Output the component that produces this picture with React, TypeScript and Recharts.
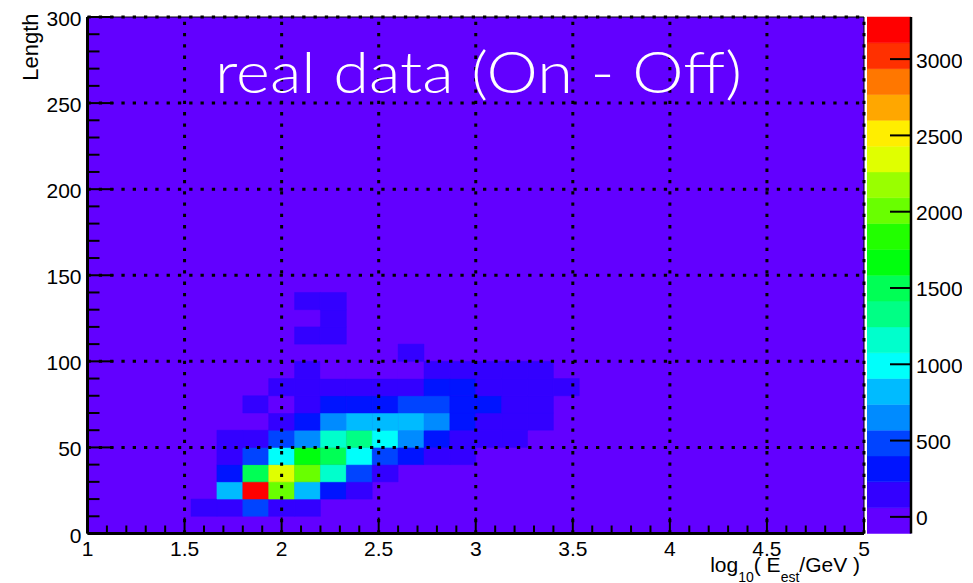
import React from "react"
import { ScatterChart, Scatter, XAxis, YAxis, ReferenceArea, ReferenceLine, CartesianGrid } from "recharts"

// TH2 "Length vs log10(E_est/GeV)", COLZ, 30 x 30 bins
const X_MIN = 1
const X_MAX = 5
const X_BINS = 30
const Y_BIN = 10

const xMajorTicks = [1, 1.5, 2, 2.5, 3, 3.5, 4, 4.5, 5]
const yMajorTicks = [0, 50, 100, 150, 200, 250, 300]
const zTicks = [0, 500, 1000, 1500, 2000, 2500, 3000]

// colour axis range
const Z_MIN = -109
const Z_MAX = 3276

// rows with signal: lower Length edge, first energy bin of the run, bin contents
const rowLength = [10, 20, 30, 40, 50, 60, 70, 80, 90, 100, 110, 120, 130]
const rowFirstBin = [4, 5, 5, 5, 5, 7, 6, 7, 8, 12, 8, 9, 8]
const rowCounts = [
  [130, 170, 470, 190, 120],
  [830, 3276, 2060, 790, 330, 150],
  [300, 1490, 2360, 1990, 1150, 480, 170],
  [190, 510, 1010, 1680, 1520, 990, 450, 320, 140, 110],
  [120, 160, 490, 660, 1170, 1330, 960, 640, 310, 180, 140, 110],
  [170, 300, 700, 840, 820, 790, 650, 280, 190, 150, 120],
  [140, 20, 210, 330, 350, 310, 450, 420, 290, 260, 200, 160],
  [110, 150, 170, 200, 190, 210, 250, 240, 200, 180, 160, 120],
  [130, 10, 30, 20, 40, 110, 150, 140, 120, 100],
  [100],
  [110, 120],
  [100],
  [120, 130],
]

// ROOT pretty palette, 20 contours
const palette = [
  "#6200FF", "#3300FF", "#0014FF", "#0044FF", "#008BFF",
  "#00BBFF", "#00FFFB", "#00FFCC", "#00FF85", "#00FF55",
  "#00FF0E", "#22FF00", "#69FF00", "#99FF00", "#E0FF00",
  "#FFEE00", "#FFA700", "#FF7700", "#FF3000", "#FF0000",
]

const FONT = "'Liberation Sans', Arial, Helvetica, sans-serif"
const binW = (X_MAX - X_MIN) / X_BINS
const zStep = (Z_MAX - Z_MIN) / palette.length

const colorFor = (v: number) => {
  const k = Math.floor((v - Z_MIN) / zStep)
  return palette[Math.min(palette.length - 1, Math.max(0, k))]
}

const cells = rowCounts.flatMap((counts, r) =>
  counts.map((value, k) => {
    const x0 = X_MIN + (rowFirstBin[r] + k) * binW
    const y0 = rowLength[r]
    return { x0, x1: x0 + binW, y0, y1: y0 + Y_BIN, x: x0 + binW / 2, y: y0 + Y_BIN / 2, value }
  })
)

const xTicks = Array.from({ length: 41 }, (_, i) => Math.round((X_MIN + i * 0.1) * 10) / 10)
const yTicks = Array.from({ length: 31 }, (_, i) => i * 10)
const zLevels = palette.map((c, k) => ({ lo: Z_MIN + k * zStep, hi: Z_MIN + (k + 1) * zStep, color: c }))

const isMajorX = (v: number) => xMajorTicks.some((t) => Math.abs(t - v) < 1e-6)
const isMajorY = (v: number) => yMajorTicks.includes(v)

function XTick({ x, y, payload }: any) {
  const major = isMajorX(payload.value)
  return (
    <g>
      <line x1={x} y1={y} x2={x} y2={y - (major ? 16 : 8)} stroke="#000" strokeWidth={2} />
      {major && (
        <text x={x} y={y + 22} textAnchor="middle" fontSize={21} fontFamily={FONT} fill="#000">
          {payload.value}
        </text>
      )}
    </g>
  )
}

function YTick({ x, y, payload }: any) {
  const major = isMajorY(payload.value)
  return (
    <g>
      <line x1={x} y1={y} x2={x + (major ? 26 : 12)} y2={y} stroke="#000" strokeWidth={2} />
      {major && (
        <text x={x - 6} y={y + 9} textAnchor="end" fontSize={21} fontFamily={FONT} fill="#000">
          {payload.value}
        </text>
      )}
    </g>
  )
}

function ZTick({ x, y, payload }: any) {
  return (
    <g>
      <line x1={x - 21} y1={y} x2={x} y2={y} stroke="#000" strokeWidth={2} />
      <text x={x + 5} y={y + 8.5} textAnchor="start" fontSize={21} fontFamily={FONT} fill="#000">
        {payload.value}
      </text>
    </g>
  )
}

export default function App() {
  return (
    <div style={{ position: "absolute", left: 0, top: 0, width: 973, height: 583, background: "#fff" }}>
      <div style={{ position: "absolute", left: 0, top: 0 }}>
        <ScatterChart width={973} height={583} margin={{ top: 17, right: 109, bottom: 9.5, left: 0 }}>
          <CartesianGrid horizontal={false} vertical={false} fill={palette[0]} />
          <XAxis
            type="number"
            dataKey="x"
            domain={[X_MIN, X_MAX]}
            ticks={xTicks}
            interval={0}
            allowDataOverflow
            height={40}
            tickSize={0}
            tickMargin={0}
            tickLine={false}
            axisLine={{ stroke: "#000", strokeWidth: 3 }}
            tick={(p: any) => <XTick {...p} />}
          />
          <YAxis
            type="number"
            dataKey="y"
            domain={[0, 300]}
            ticks={yTicks}
            interval={0}
            allowDataOverflow
            width={87.5}
            tickSize={0}
            tickMargin={0}
            tickLine={false}
            axisLine={{ stroke: "#000", strokeWidth: 3 }}
            tick={(p: any) => <YTick {...p} />}
          />
          {cells.map((c, i) => (
            <ReferenceArea
              key={i}
              x1={c.x0}
              x2={c.x1}
              y1={c.y0}
              y2={c.y1}
              fill={colorFor(c.value)}
              fillOpacity={1}
              stroke={colorFor(c.value)}
              strokeWidth={0.5}
            />
          ))}
          {xMajorTicks.slice(1).map((v) => (
            <ReferenceLine key={"gx" + v} x={v} stroke="#000" strokeWidth={3} strokeDasharray="3.3 8" />
          ))}
          {yMajorTicks.slice(1).map((v) => (
            <ReferenceLine key={"gy" + v} y={v} stroke="#000" strokeWidth={3} strokeDasharray="3.3 8" />
          ))}
          <ReferenceLine y={300} stroke="#000" strokeWidth={1} />
          <ReferenceLine x={5} stroke="#000" strokeWidth={1} />
          <Scatter data={cells} fill="#000" fillOpacity={0} isAnimationActive={false} />
        </ScatterChart>
      </div>

      {/* palette axis */}
      <div style={{ position: "absolute", left: 867, top: 0, width: 95, height: 583, overflow: "hidden" }}>
        <ScatterChart width={95} height={583} margin={{ top: 17, right: 0, bottom: 49.5, left: 0 }}>
          <XAxis type="number" dataKey="x" domain={[0, 1]} hide />
          <YAxis
            type="number"
            dataKey="y"
            orientation="right"
            domain={[Z_MIN, Z_MAX]}
            ticks={zTicks}
            interval={0}
            allowDataOverflow
            width={51}
            tickSize={0}
            tickMargin={0}
            tickLine={false}
            axisLine={{ stroke: "#000", strokeWidth: 2.5 }}
            tick={(p: any) => <ZTick {...p} />}
          />
          {zLevels.map((l, k) => (
            <ReferenceArea key={k} x1={0} x2={1} y1={l.lo} y2={l.hi} fill={l.color} fillOpacity={1} stroke={l.color} strokeWidth={0.5} />
          ))}
          <Scatter data={zLevels.map((l) => ({ x: 0.5, y: (l.lo + l.hi) / 2 }))} fillOpacity={0} isAnimationActive={false} />
        </ScatterChart>
      </div>

      <svg width={973} height={583} style={{ position: "absolute", left: 0, top: 0, pointerEvents: "none" }}>
        <text x={215} y={93} fontFamily="Lato, 'Open Sans', sans-serif" fontWeight={300} fontSize={58} fill="#fff" textLength={527} lengthAdjust="spacingAndGlyphs">
          real data (On - Off)
        </text>
        <text transform="translate(38,13.5) rotate(-90)" textAnchor="end" fontFamily={FONT} fontSize={22} fill="#000">
          Length
        </text>
        <text x={860} y={571.5} textAnchor="end" fontFamily={FONT} fontSize={21} fill="#000">
          log
          <tspan dy={10} fontSize={14}>10</tspan>
          <tspan dy={-10}>( E</tspan>
          <tspan dy={10} fontSize={14}>est</tspan>
          <tspan dy={-10}>/GeV )</tspan>
        </text>
      </svg>
    </div>
  )
}
